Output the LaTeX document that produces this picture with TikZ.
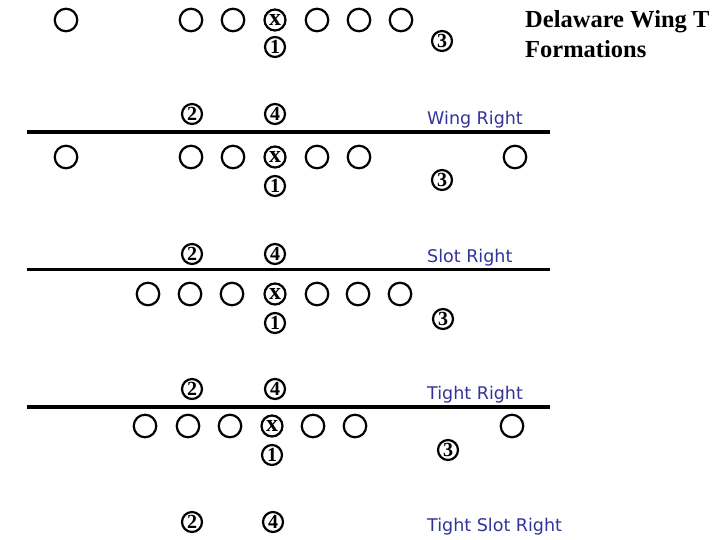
\documentclass[tikz,border=0pt]{standalone}
\usepackage{fontspec}
\setmainfont{Liberation Serif}
\newfontfamily\labelfont{DejaVu Sans}
\definecolor{labelblue}{RGB}{51,51,153}

\begin{document}
\begin{tikzpicture}[x=1pt, y=-1pt]

  % Styles
  \tikzset{
    lineman/.style={circle, draw=black, line width=2.2pt, minimum size=22.5pt, inner sep=0pt},
    center/.style={lineman, minimum size=21pt, font=\fontsize{24}{24}\selectfont\bfseries},
    back/.style={circle, draw=black, line width=2.2pt, minimum size=20pt, inner sep=0pt,
      font=\fontsize{20}{20}\selectfont\bfseries},
    formation label/.style={anchor=base west, inner sep=0pt, text=labelblue,
      font=\labelfont\fontsize{17.5}{17.5}\selectfont},
    field line/.style={line width=3.5pt}
  }

  \useasboundingbox (0,0) rectangle (720,540);

  % --- TITLE ---
  \node[anchor=north west, inner sep=0pt, align=left,
    font=\fontsize{24.5}{30}\selectfont\bfseries] (title) at (525,10) {Delaware Wing T\\Formations};

  % --- WING RIGHT ---
  \node[lineman] (wr-se) at (66,20) {};
  \node[lineman] (wr-lt) at (191,20) {};
  \node[lineman] (wr-lg) at (233,20) {};
  \node[center]  (wr-c)  at (275,20) {\raisebox{-2.5pt}{x}};
  \node[lineman] (wr-rg) at (317,20) {};
  \node[lineman] (wr-rt) at (359,20) {};
  \node[lineman] (wr-te) at (401,20) {};
  \node[back] (wr-qb) at (275,47) {1};
  \node[back] (wr-wb) at (442,41) {3};
  \node[back] (wr-hb) at (192,114) {2};
  \node[back] (wr-fb) at (275,114) {4};
  \node[formation label] (wr-name) at (427,124.5) {Wing Right};
  \draw[field line] (27,132) -- (550,132);

  % --- SLOT RIGHT ---
  \node[lineman] (sr-se) at (66,157) {};
  \node[lineman] (sr-lt) at (191,157) {};
  \node[lineman] (sr-lg) at (233,157) {};
  \node[center]  (sr-c)  at (275,157) {\raisebox{-2.5pt}{x}};
  \node[lineman] (sr-rg) at (317,157) {};
  \node[lineman] (sr-rt) at (359,157) {};
  \node[lineman] (sr-te) at (515,157) {};
  \node[back] (sr-qb) at (275,186) {1};
  \node[back] (sr-wb) at (442,180) {3};
  \node[back] (sr-hb) at (192,254) {2};
  \node[back] (sr-fb) at (275,254) {4};
  \node[formation label] (sr-name) at (427,262) {Slot Right};
  \draw[field line] (27,269.5) -- (550,269.5);

  % --- TIGHT RIGHT ---
  \node[lineman] (tr-le) at (148,294) {};
  \node[lineman] (tr-lt) at (190,294) {};
  \node[lineman] (tr-lg) at (232,294) {};
  \node[center]  (tr-c)  at (275,294) {\raisebox{-2.5pt}{x}};
  \node[lineman] (tr-rg) at (317,294) {};
  \node[lineman] (tr-rt) at (358,294) {};
  \node[lineman] (tr-te) at (400,294) {};
  \node[back] (tr-qb) at (275,323) {1};
  \node[back] (tr-wb) at (443,319) {3};
  \node[back] (tr-hb) at (192,389) {2};
  \node[back] (tr-fb) at (275,389) {4};
  \node[formation label] (tr-name) at (427,399.5) {Tight Right};
  \draw[field line] (27,407) -- (550,407);

  % --- TIGHT SLOT RIGHT ---
  \node[lineman] (tsr-le) at (145,426) {};
  \node[lineman] (tsr-lt) at (188,426) {};
  \node[lineman] (tsr-lg) at (230,426) {};
  \node[center]  (tsr-c)  at (272,426) {\raisebox{-2.5pt}{x}};
  \node[lineman] (tsr-rg) at (313,426) {};
  \node[lineman] (tsr-rt) at (355,426) {};
  \node[lineman] (tsr-te) at (512,426) {};
  \node[back] (tsr-qb) at (272,455) {1};
  \node[back] (tsr-wb) at (448,450) {3};
  \node[back] (tsr-hb) at (192,522) {2};
  \node[back] (tsr-fb) at (273,522) {4};
  \node[formation label] (tsr-name) at (427,531) {Tight Slot Right};

\end{tikzpicture}
\end{document}
